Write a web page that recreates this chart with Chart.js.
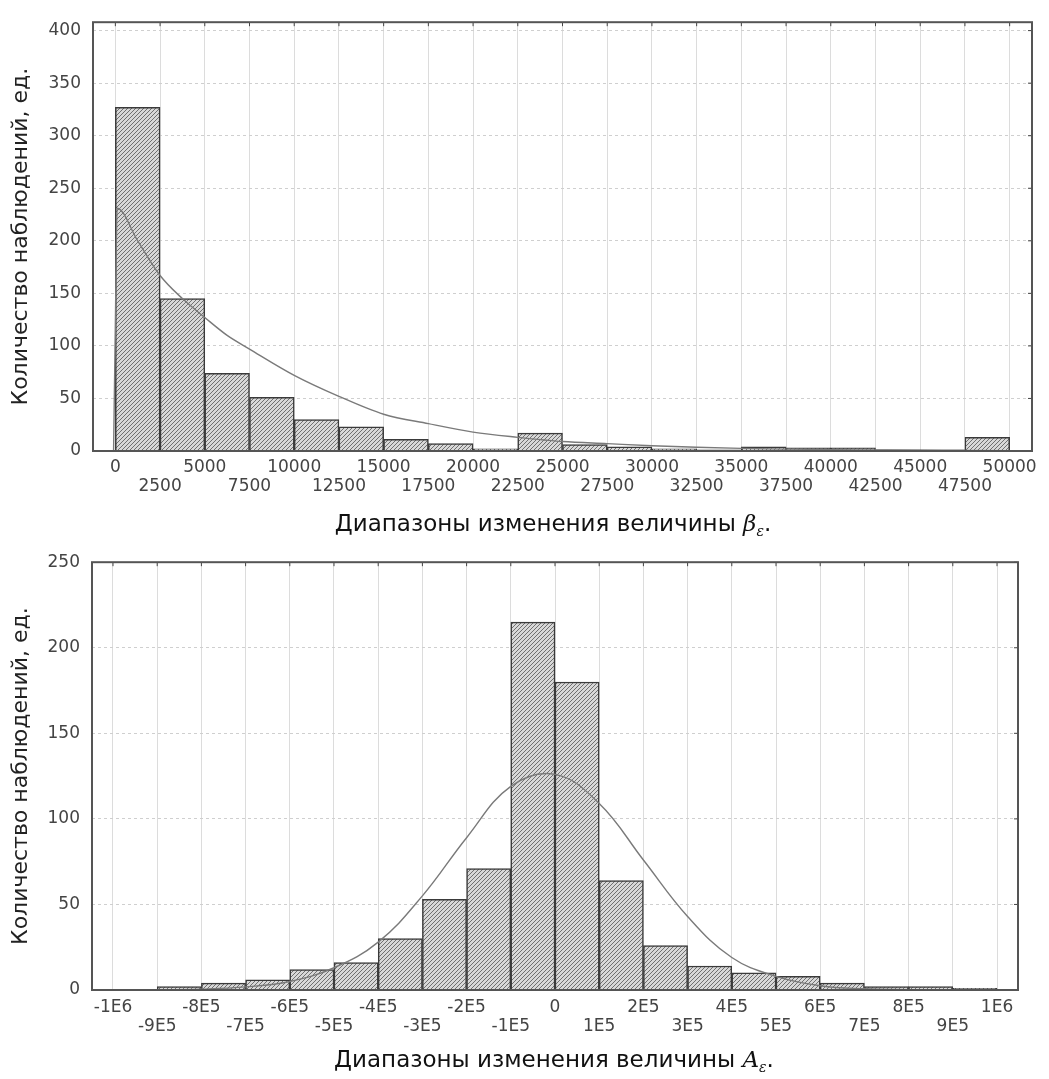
<!DOCTYPE html>
<html>
<head>
<meta charset="utf-8">
<script src="https://cdn.jsdelivr.net/npm/chart.js@4.4.0/dist/chart.umd.min.js"></script>
<style>
  html, body { margin: 0; padding: 0; background: #fff; }
  canvas { display: block; }
</style>
</head>
<body>
<canvas id="betaChart" width="1049" height="540"></canvas>
<canvas id="aChart" width="1049" height="539"></canvas>
<script>
// --- top histogram (beta eps) ---
const betaBins = [0, 2500, 5000, 7500, 10000, 12500, 15000, 17500, 20000, 22500,
  25000, 27500, 30000, 32500, 35000, 37500, 40000, 42500, 45000, 47500];
const betaCounts = [327, 145, 74, 51, 30, 23, 11, 7, 2, 17, 6, 4, 2, 1, 4, 3, 3, 1, 1, 13];
const betaBinWidth = 2500;
const betaTicks = [0, 2500, 5000, 7500, 10000, 12500, 15000, 17500, 20000, 22500, 25000,
  27500, 30000, 32500, 35000, 37500, 40000, 42500, 45000, 47500, 50000];
const betaTickLabels = ['0', '2500', '5000', '7500', '10000', '12500', '15000', '17500', '20000',
  '22500', '25000', '27500', '30000', '32500', '35000', '37500', '40000', '42500', '45000', '47500', '50000'];
const betaYTicks = [0, 50, 100, 150, 200, 250, 300, 350, 400];
const betaCurveX = [-100, 0, 100, 1250, 2500, 3750, 5000, 6250, 7500, 10000, 12500, 15000, 17500,
  20000, 22500, 25000, 27500, 30000, 32500, 35000, 37500, 40000, 42500, 45000, 47500, 50000];
const betaCurveY = [0, 120, 231, 200, 167, 145, 127, 110, 97, 72, 52, 35, 26,
  18, 13, 9, 7, 5, 3.5, 2.5, 1.8, 1.3, 1, 0.7, 0.5, 0.3];

// --- bottom histogram (A eps) ---
const aBins = [-1e6, -9e5, -8e5, -7e5, -6e5, -5e5, -4e5, -3e5, -2e5, -1e5,
  0, 1e5, 2e5, 3e5, 4e5, 5e5, 6e5, 7e5, 8e5, 9e5];
const aCounts = [0, 2, 4, 6, 12, 16, 30, 53, 71, 215, 180, 64, 26, 14, 10, 8, 4, 2, 2, 1];
const aBinWidth = 1e5;
const aTicks = [-1e6, -9e5, -8e5, -7e5, -6e5, -5e5, -4e5, -3e5, -2e5, -1e5, 0,
  1e5, 2e5, 3e5, 4e5, 5e5, 6e5, 7e5, 8e5, 9e5, 1e6];
const aTickLabels = ['-1E6', '-9E5', '-8E5', '-7E5', '-6E5', '-5E5', '-4E5', '-3E5', '-2E5', '-1E5', '0',
  '1E5', '2E5', '3E5', '4E5', '5E5', '6E5', '7E5', '8E5', '9E5', '1E6'];
const aYTicks = [0, 50, 100, 150, 200, 250];
const aCurveX = [-1e6, -9e5, -8e5, -7e5, -6e5, -5e5, -4e5, -3e5, -2e5, -1e5, 0,
  1e5, 2e5, 3e5, 4e5, 5e5, 6e5, 7e5, 8e5, 9e5, 1e6];
const aCurveY = [0, 0.1, 0.5, 1.8, 5, 13, 28, 55, 89, 119, 126,
  109, 76, 43, 19, 8, 2.5, 0.7, 0.2, 0, 0];

const FONT = 'DejaVu Sans';

function makeHatch() {
  const c = document.createElement('canvas');
  c.width = 4; c.height = 4;
  const g = c.getContext('2d');
  g.fillStyle = '#d8d8d8';
  g.fillRect(0, 0, 4, 4);
  g.fillStyle = '#707070';
  for (let i = 0; i < 4; i++) g.fillRect(i, 3 - i, 1, 1);
  return g.createPattern(c, 'repeat');
}

// frame around plot area + small inward tick marks on top/right edges
const framePlugin = {
  id: 'frame',
  afterDraw(chart) {
    const { ctx, chartArea: a, scales } = chart;
    ctx.save();
    ctx.strokeStyle = '#444';
    ctx.lineWidth = 1;
    scales.x.ticks.forEach(t => {
      const px = scales.x.getPixelForValue(t.value);
      ctx.beginPath(); ctx.moveTo(px, a.top); ctx.lineTo(px, a.top + 4); ctx.stroke();
    });
    scales.y.ticks.forEach(t => {
      const py = scales.y.getPixelForValue(t.value);
      ctx.beginPath(); ctx.moveTo(a.right, py); ctx.lineTo(a.right - 4, py); ctx.stroke();
    });
    ctx.lineWidth = 2;
    ctx.strokeStyle = '#555';
    ctx.strokeRect(a.left, a.top, a.right - a.left, a.bottom - a.top);
    ctx.restore();
  }
};

// x-axis title with italic symbol and subscript
const xTitlePlugin = {
  id: 'xTitle',
  afterDraw(chart, args, o) {
    const ctx = chart.ctx;
    ctx.save();
    ctx.fillStyle = '#111';
    ctx.textBaseline = 'alphabetic';
    ctx.textAlign = 'left';
    const mainFont = '23px "' + FONT + '"';
    const symFont = 'italic 23px "DejaVu Serif"';
    const subFont = 'italic 14px "DejaVu Serif"';
    ctx.font = mainFont; const w1 = ctx.measureText(o.text + ' ').width;
    ctx.font = symFont; const w2 = ctx.measureText(o.symbol).width;
    ctx.font = subFont; const w3 = ctx.measureText(o.sub).width;
    ctx.font = mainFont; const w4 = ctx.measureText('.').width;
    let x = o.cx - (w1 + w2 + w3 + w4) / 2;
    ctx.font = mainFont; ctx.fillText(o.text + ' ', x, o.y); x += w1;
    ctx.font = symFont; ctx.fillText(o.symbol, x, o.y); x += w2;
    ctx.font = subFont; ctx.fillText(o.sub, x, o.y + 5); x += w3;
    ctx.font = mainFont; ctx.fillText('.', x, o.y);
    ctx.restore();
  }
};

function buildChart(id, cfg) {
  const hatch = makeHatch();
  const bars = cfg.bins.map((b, i) => ({ x: b + cfg.binWidth / 2, y: cfg.counts[i] }));
  const curve = cfg.curveX.map((x, i) => ({ x: x, y: cfg.curveY[i] }));
  return new Chart(document.getElementById(id), {
    type: 'bar',
    data: {
      datasets: [
        {
          type: 'line',
          data: curve,
          borderColor: '#7a7a7a',
          borderWidth: 1.4,
          pointRadius: 0,
          cubicInterpolationMode: cfg.curveMode,
          tension: 0.4,
          order: 0
        },
        {
          type: 'bar',
          data: bars,
          backgroundColor: hatch,
          borderColor: '#3a3a3a',
          borderWidth: 1.5,
          barPercentage: 1,
          categoryPercentage: 1,
          order: 1
        }
      ]
    },
    options: {
      responsive: false,
      animation: false,
      layout: { padding: cfg.padding },
      plugins: {
        legend: { display: false },
        tooltip: { enabled: false },
        xTitle: cfg.xTitle
      },
      scales: {
        x: {
          type: 'linear',
          offset: false,
          min: cfg.xMin,
          max: cfg.xMax,
          afterBuildTicks: s => { s.ticks = cfg.ticks.map(v => ({ value: v })); },
          afterFit: s => { s.height = cfg.xHeight; },
          grid: { color: '#dcdcdc', lineWidth: 1, drawTicks: false, offset: false },
          border: { display: false },
          ticks: {
            autoSkip: false,
            minRotation: 0,
            maxRotation: 0,
            padding: cfg.tickPad,
            color: '#444',
            font: { family: FONT, size: 17, lineHeight: 1.12 },
            callback: (v, i) => i % 2 === 0 ? cfg.tickLabels[i] : ['', cfg.tickLabels[i]]
          }
        },
        y: {
          min: 0,
          max: cfg.yMax,
          afterBuildTicks: s => { s.ticks = cfg.yTicks.map(v => ({ value: v })); },
          afterFit: s => { s.width = cfg.yWidth; },
          grid: { color: '#cfcfcf', lineWidth: 1, drawTicks: false },
          border: { display: false, dash: [3, 3] },
          ticks: {
            padding: 12,
            color: '#444',
            font: { family: FONT, size: 17 }
          },
          title: {
            display: true,
            text: 'Количество наблюдений, ед.',
            color: '#222',
            font: { family: FONT, size: 22 },
            padding: { top: 8, bottom: 0 }
          }
        }
      }
    },
    plugins: [framePlugin, xTitlePlugin]
  });
}

buildChart('betaChart', {
  bins: betaBins, counts: betaCounts, binWidth: betaBinWidth,
  curveX: betaCurveX, curveY: betaCurveY, curveMode: 'monotone',
  ticks: betaTicks, tickLabels: betaTickLabels, yTicks: betaYTicks,
  xMin: -1250, xMax: 51250, yMax: 408,
  padding: { top: 12, right: 17, left: 0, bottom: 0 },
  yWidth: 93, xHeight: 89, tickPad: 7,
  xTitle: { text: 'Диапазоны изменения величины', symbol: 'β', sub: 'ε', cx: 553, y: 531 }
});

buildChart('aChart', {
  bins: aBins, counts: aCounts, binWidth: aBinWidth,
  curveX: aCurveX, curveY: aCurveY, curveMode: 'default',
  ticks: aTicks, tickLabels: aTickLabels, yTicks: aYTicks,
  xMin: -1047500, xMax: 1047500, yMax: 250,
  padding: { top: 18, right: 31, left: 0, bottom: 0 },
  yWidth: 92, xHeight: 89, tickPad: 8,
  xTitle: { text: 'Диапазоны изменения величины', symbol: 'A', sub: 'ε', cx: 554, y: 527 }
});
</script>
</body>
</html>
